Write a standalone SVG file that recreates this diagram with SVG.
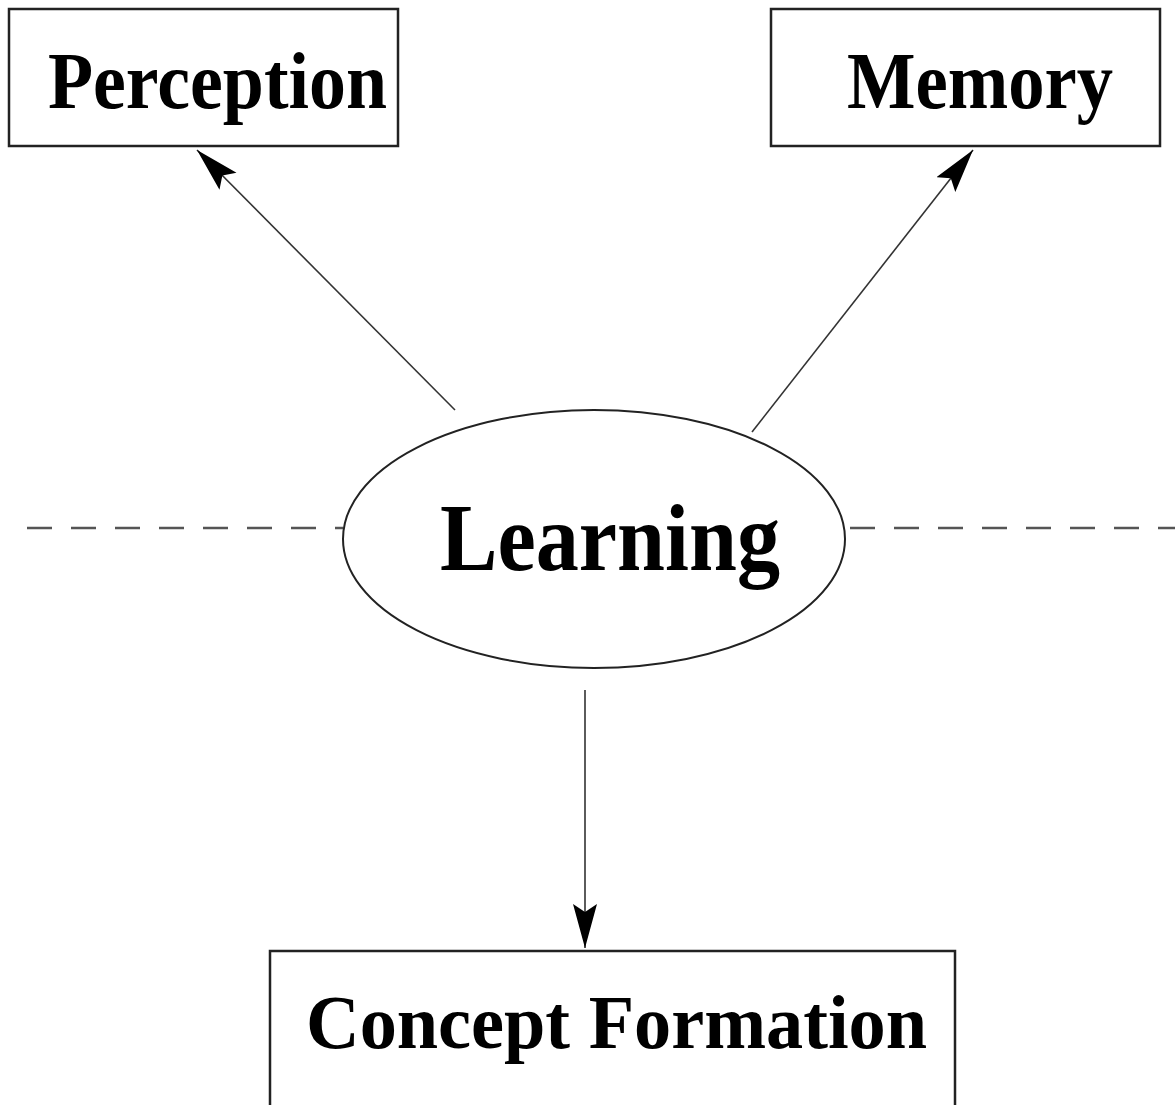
<svg xmlns="http://www.w3.org/2000/svg" width="1175" height="1105" viewBox="0 0 1175 1105">
<style>
.box{fill:#fff;stroke:#222;stroke-width:2.5}
.lbl{font-family:"Liberation Serif","Times New Roman",serif;font-weight:bold;fill:#000}
.conn{stroke:#333;stroke-width:1.6;fill:none}
.dash{stroke:#555;stroke-width:2.5;stroke-dasharray:25 19;fill:none}
</style>
<defs>
<marker id="ah" markerUnits="userSpaceOnUse" markerWidth="50" markerHeight="30" refX="44" refY="12" orient="auto">
<path d="M44,12 L0,0 L8,12 L0,24 Z" fill="#000"/>
</marker>
</defs>
<rect width="1175" height="1105" fill="#fff"/>
<g id="separator">
<line class="dash" x1="27" y1="528" x2="343" y2="528"/>
<line class="dash" x1="850" y1="528" x2="1175" y2="528"/>
</g>
<g id="connectors">
<line class="conn" x1="455" y1="410" x2="197" y2="150" marker-end="url(#ah)"/>
<line class="conn" x1="752" y1="432" x2="973" y2="150" marker-end="url(#ah)"/>
<line class="conn" x1="585" y1="690" x2="585" y2="948" marker-end="url(#ah)"/>
</g>
<g id="perception">
<rect class="box" x="9" y="9" width="389" height="137"/>
<text class="lbl" x="48" y="108" font-size="80" textLength="339" lengthAdjust="spacingAndGlyphs">Perception</text>
</g>
<g id="memory">
<rect class="box" x="771" y="9" width="389" height="137"/>
<text class="lbl" x="847" y="108" font-size="80" textLength="266" lengthAdjust="spacingAndGlyphs">Memory</text>
</g>
<g id="learning">
<ellipse cx="594" cy="539" rx="251" ry="129" fill="#fff" stroke="#222" stroke-width="2"/>
<text class="lbl" x="440" y="570" font-size="95" textLength="340" lengthAdjust="spacingAndGlyphs">Learning</text>
</g>
<g id="concept-formation">
<rect class="box" x="270" y="951" width="685" height="170"/>
<text class="lbl" x="306" y="1048" font-size="76" textLength="621" lengthAdjust="spacingAndGlyphs">Concept Formation</text>
</g>
</svg>
